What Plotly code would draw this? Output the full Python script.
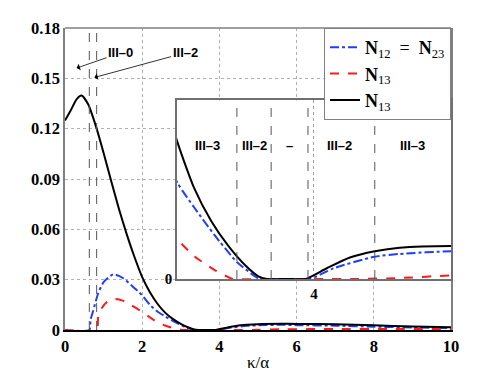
import plotly.graph_objects as go

# ---- data ----
x_n12 = [0, 0.63, 0.66, 0.73, 0.86, 1.0, 1.25, 1.5, 1.75, 1.99, 2.2, 2.41, 2.61, 2.84, 3.1, 3.31, 3.36,
         3.6, 3.95, 4.23, 4.71, 5.0, 5.6, 6.0, 7.0, 8.0, 9.0, 10.0]
y_n12 = [0, 0, 0.006, 0.0115, 0.0219, 0.0285, 0.0332, 0.031, 0.026, 0.0209, 0.015, 0.0107, 0.0079, 0.0049,
         0.0019, 0.0003, 0, 0, 0, 0.0012, 0.0025, 0.0028, 0.0031, 0.0029, 0.0026, 0.002, 0.0015, 0.0011]

x_n13a = [0, 0.82, 0.86, 0.95, 1.1, 1.3, 1.5, 1.99, 2.2, 2.41, 2.61, 2.84, 3.0, 3.05, 3.5, 4.0, 4.5,
          5.0, 5.6, 7.0, 8.5, 10.0]
y_n13a = [0, 0, 0.008, 0.013, 0.017, 0.0185, 0.0175, 0.0109, 0.0075, 0.0044, 0.0025, 0.001, 0.0002, 0,
          0, 0, 0, 0.0001, 0.0004, 0.0006, 0.0006, 0.0006]

x_n13b = [0, 0.15, 0.3, 0.43, 0.6, 0.8, 1.0, 1.2, 1.4, 1.6, 1.8, 2.0, 2.2, 2.4, 2.6, 2.8, 3.0, 3.2,
          3.35, 3.45, 3.7, 3.9, 4.15, 4.42, 4.71, 5.0, 5.6, 6.0, 7.0, 8.0, 9.0, 10.0]
y_n13b = [0.1248, 0.131, 0.1375, 0.1397, 0.1345, 0.1215, 0.1055, 0.0885, 0.072, 0.057, 0.0435, 0.0315,
          0.0225, 0.0155, 0.0102, 0.0065, 0.0037, 0.0015, 0.0003, 0, 0, 0, 0.0012, 0.0024, 0.0031, 0.0035,
          0.0037, 0.0036, 0.0034, 0.0028, 0.0021, 0.0016]

main_boundaries = [0.63, 0.82]
inset_boundaries = [3.10, 3.50, 3.93, 4.71]
inset_labels = ["III–3", "III–2", "–", "III–2", "III–3"]
inset_label_x = [2.76, 3.30, 3.72, 4.30, 5.15]

x_ticks = [0, 2, 4, 6, 8, 10]
x_ticktext = ["0", "2", "4", "6", "8", "10"]
y_ticks = [0, 0.03, 0.06, 0.09, 0.12, 0.15, 0.18]
y_ticktext = ["0", "0.03", "0.06", "0.09", "0.12", "0.15", "0.18"]
inset_xticks = [4]
inset_xticktext = ["4"]
inset_yticks = [0]
inset_yticktext = ["0"]

legend_names = ["<b>N</b><sub>12</sub>\u2002=\u2002<b>N</b><sub>23</sub>",
                "<b>N</b><sub>13</sub>", "<b>N</b><sub>13</sub>"]

BLUE = "#1f3dff"
RED = "#ff1a1a"
BLACK = "#000000"


def bold(labels):
    return ["<b>%s</b>" % t for t in labels]


series = [
    (x_n12, y_n12, BLUE, "dashdot", legend_names[0]),
    (x_n13a, y_n13a, RED, "dash", legend_names[1]),
    (x_n13b, y_n13b, BLACK, "solid", legend_names[2]),
]

fig = go.Figure()
for xs, ys, col, dash, name in series:
    fig.add_trace(go.Scatter(x=xs, y=ys, mode="lines", name=name,
                             line=dict(color=col, dash=dash, width=2, shape="spline", smoothing=0.6),
                             xaxis="x", yaxis="y"))
for xs, ys, col, dash, name in series:
    fig.add_trace(go.Scatter(x=xs, y=ys, mode="lines", name=name, showlegend=False,
                             line=dict(color=col, dash=dash, width=2, shape="spline", smoothing=0.6),
                             xaxis="x2", yaxis="y2"))

SERIF = "Liberation Serif, Times New Roman, serif"
tickfont = dict(family=SERIF, size=16.5, color="black")

# the page body has an 8px margin, so margins are shifted by -8 px
fig.update_layout(
    width=498, height=366,
    margin=dict(l=57, r=55, t=20, b=44),
    paper_bgcolor="white", plot_bgcolor="white",
    showlegend=True,
    legend=dict(x=1, y=1, xanchor="right", yanchor="top", bgcolor="white",
                bordercolor="#808080", borderwidth=1,
                font=dict(family=SERIF, size=18, color="black"),
                tracegroupgap=0),
    xaxis=dict(range=[0, 10], tickvals=x_ticks, ticktext=bold(x_ticktext), tickfont=tickfont,
               showgrid=True, gridcolor="#b0b0b0", griddash="dot", gridwidth=1,
               showline=True, linecolor="black", linewidth=1.5, mirror=False,
               zeroline=False, ticks="", ticklabelstandoff=0, automargin=False,
               title=dict(text="κ/α", font=dict(family=SERIF, size=17, color="black"),
                          standoff=2)),
    yaxis=dict(range=[0, 0.18], tickvals=y_ticks, ticktext=bold(y_ticktext), tickfont=tickfont,
               showgrid=True, gridcolor="#b0b0b0", griddash="dot", gridwidth=1,
               showline=True, linecolor="#808080", linewidth=1.5, mirror=True,
               zeroline=False, ticks="", automargin=False),
    xaxis2=dict(domain=[0.29, 1.0], anchor="y2", range=[2.4, 5.6], tickvals=inset_xticks,
                ticktext=bold(inset_xticktext), tickfont=dict(family=SERIF, size=15, color="black"),
                showgrid=True, gridcolor="#a0a0a0", griddash="dot", gridwidth=1,
                showline=True, linecolor="#707070", linewidth=1.5, mirror=True, zeroline=False),
    yaxis2=dict(domain=[0.169, 0.76], anchor="x2", range=[0, 0.02], tickvals=inset_yticks,
                ticktext=bold(inset_yticktext), tickfont=dict(family=SERIF, size=15, color="black"),
                showgrid=False,
                showline=True, linecolor="#707070", linewidth=1.5, mirror=True, zeroline=False),
)

shapes = [dict(type="line", xref="x domain", yref="y domain", x0=0, x1=1, y0=1, y1=1,
               line=dict(color="#808080", width=1.5))]
for b in main_boundaries:
    shapes.append(dict(type="line", xref="x", yref="y domain", x0=b, x1=b, y0=0, y1=1,
                       line=dict(color="#555555", width=1, dash="dash")))
for b in inset_boundaries:
    shapes.append(dict(type="line", xref="x2", yref="y2 domain", x0=b, x1=b, y0=0, y1=1,
                       line=dict(color="#555555", width=1, dash="dash")))
fig.update_layout(shapes=shapes)

labfont = dict(family="Liberation Sans, Arial, sans-serif", size=13, color="black")
annotations = [
    dict(x=0.30, y=0.1561, ax=1.44, ay=0.1652, xref="x", yref="y", axref="x", ayref="y",
         text="<b>III–0</b>", showarrow=True, arrowhead=1, arrowsize=1.4, arrowwidth=0.8,
         arrowcolor="black", font=labfont),
    dict(x=0.76, y=0.1505, ax=3.11, ay=0.1652, xref="x", yref="y", axref="x", ayref="y",
         text="<b>III–2</b>", showarrow=True, arrowhead=1, arrowsize=1.4, arrowwidth=0.8,
         arrowcolor="black", font=labfont),
]
for t, xv in zip(inset_labels, inset_label_x):
    annotations.append(dict(x=xv, y=0.80, xref="x2", yref="y2 domain", text="<b>%s</b>" % t,
                            showarrow=False, font=labfont))
fig.update_layout(annotations=annotations)

fig.write_html("out.html")
